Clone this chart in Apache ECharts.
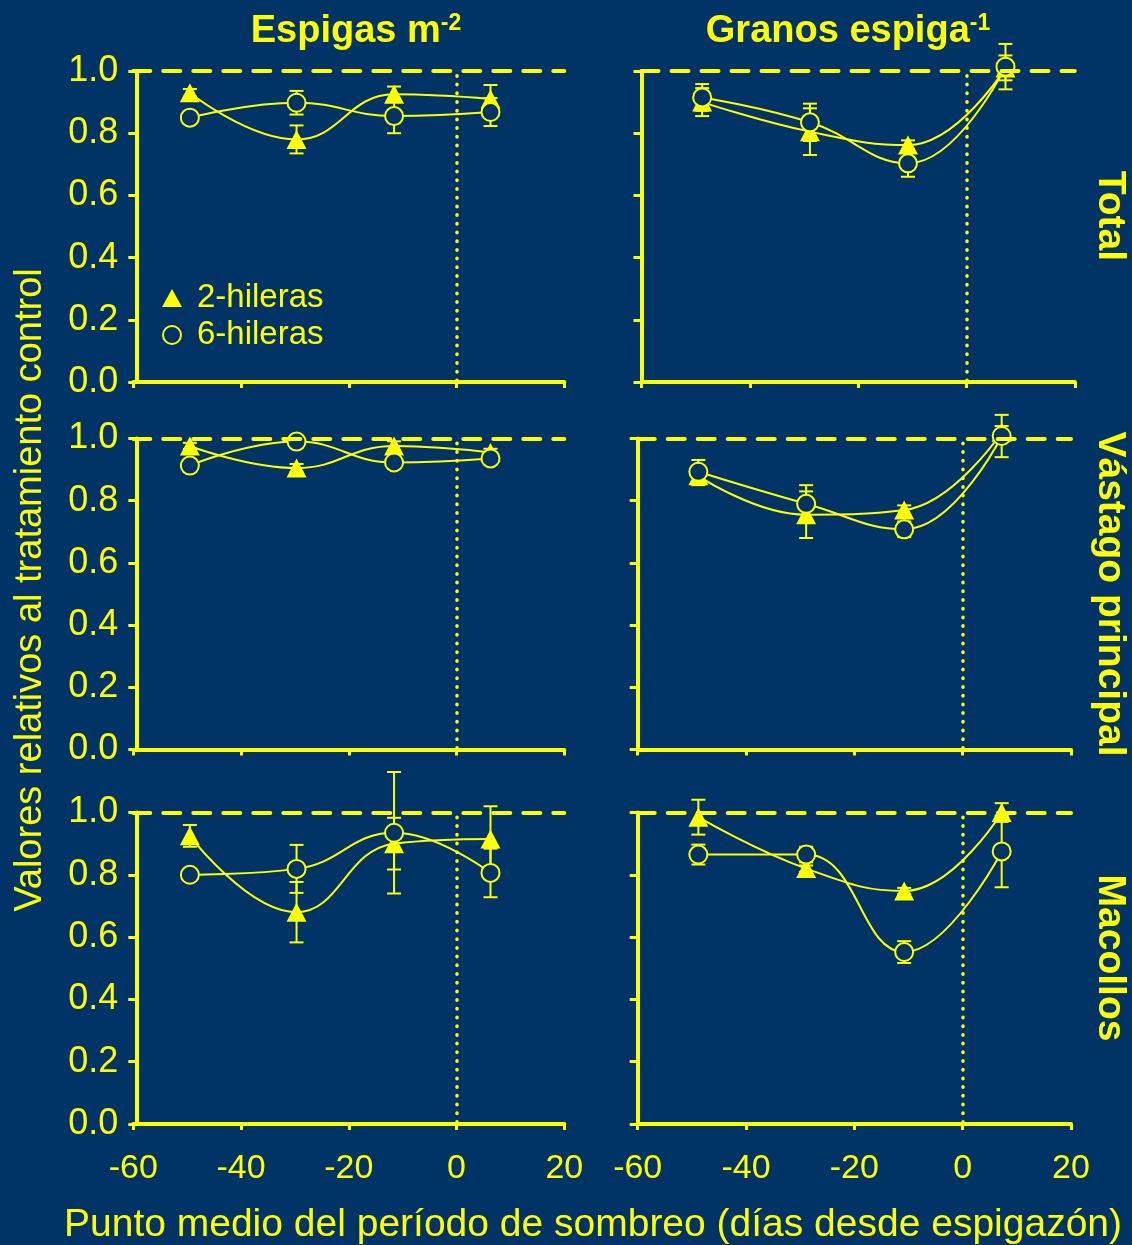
<!DOCTYPE html>
<html>
<head>
<meta charset="utf-8">
<script src="https://cdn.jsdelivr.net/npm/echarts@6/dist/echarts.min.js"></script>
<style>
  html, body { margin: 0; padding: 0; background: #003366; }
  #chart { width: 1132px; height: 1245px; }
</style>
</head>
<body>
<div id="chart"></div>
<script>
// Días desde espigazón (punto medio del sombreo) para cada columna
const diasIzq = [-49.5, -29.7, -11.6, 6.3];
const diasDer = [-48.8, -28.9, -10.8, 7.2];

// Espigas m-2 — Total
const espTotal2 = [0.93, 0.78, 0.925, 0.91];
const espTotal2Err = [0.012, 0.045, 0.025, 0.045];
const espTotal6 = [0.85, 0.898, 0.855, 0.868];
const espTotal6Err = [0.008, 0.038, 0.055, 0.045];

// Granos espiga-1 — Total
const graTotal2 = [0.90, 0.805, 0.762, 1.01];
const graTotal2Err = [0.045, 0.075, 0.015, 0.04];
const graTotal6 = [0.915, 0.835, 0.703, 1.014];
const graTotal6Err = [0.043, 0.06, 0.043, 0.073];

// Espigas m-2 — Vástago principal
const espVp2 = [0.976, 0.905, 0.976, 0.955];
const espVp2Err = [0.01, 0.013, 0.015, 0.012];
const espVp6 = [0.913, 0.99, 0.923, 0.936];
const espVp6Err = [0.01, 0.01, 0.018, 0.012];

// Granos espiga-1 — Vástago principal
const graVp2 = [0.88, 0.755, 0.77, 1.02];
const graVp2Err = [0.03, 0.075, 0.015, 0.02];
const graVp6 = [0.893, 0.79, 0.708, 1.008];
const graVp6Err = [0.038, 0.06, 0.025, 0.068];

// Espigas m-2 — Macollos
const espMac2 = [0.925, 0.68, 0.90, 0.915];
const espMac2Err = [0.035, 0.097, 0.083, 0.105];
const espMac6 = [0.80, 0.819, 0.935, 0.806];
const espMac6Err = [0.005, 0.077, 0.195, 0.078];

// Granos espiga-1 — Macollos
const graMac2 = [0.985, 0.82, 0.748, 1.0];
const graMac2Err = [0.056, 0.01, 0.01, 0.03];
const graMac6 = [0.865, 0.865, 0.552, 0.875];
const graMac6Err = [0.032, 0.025, 0.035, 0.115];

const xTicks = [-60, -40, -20, 0, 20];
const yTicks = [0, 0.2, 0.4, 0.6, 0.8, 1.0];

const BG = '#003366';
const AMARILLO = '#ffff00';
const FUENTE = '"Liberation Sans", Arial, sans-serif';

// Paneles: fila (Total, Vástago principal, Macollos) x columna (Espigas, Granos)
const paneles = [
  { grid: { left: 133.3, top: 71,    width: 431,   height: 311 }, dias: diasIzq, s2: espTotal2, e2: espTotal2Err, s6: espTotal6, e6: espTotal6Err, izq: true,  abajo: false },
  { grid: { left: 641.5, top: 71,    width: 433.3, height: 311 }, dias: diasDer, s2: graTotal2, e2: graTotal2Err, s6: graTotal6, e6: graTotal6Err, izq: false, abajo: false },
  { grid: { left: 133.3, top: 438.5, width: 431,   height: 311 }, dias: diasIzq, s2: espVp2,    e2: espVp2Err,    s6: espVp6,    e6: espVp6Err,    izq: true,  abajo: false },
  { grid: { left: 637.7, top: 438.5, width: 433.3, height: 311 }, dias: diasDer, s2: graVp2,    e2: graVp2Err,    s6: graVp6,    e6: graVp6Err,    izq: false, abajo: false },
  { grid: { left: 133.3, top: 812.5, width: 431,   height: 311.5 }, dias: diasIzq, s2: espMac2,   e2: espMac2Err,   s6: espMac6,   e6: espMac6Err,   izq: true,  abajo: true },
  { grid: { left: 637.7, top: 812.5, width: 433.3, height: 311.5 }, dias: diasDer, s2: graMac2,   e2: graMac2Err,   s6: graMac6,   e6: graMac6Err,   izq: false, abajo: true }
];

const grids = [], xAxes = [], yAxes = [], series = [];

function barrasError(idx, dias, valores, errores, nombre) {
  return {
    type: 'custom',
    name: nombre + ' error',
    xAxisIndex: idx,
    yAxisIndex: idx,
    clip: false,
    z: 1,
    silent: true,
    data: dias.map((d, i) => [d, valores[i], errores[i]]),
    renderItem: function (params, api) {
      const x = api.value(0), y = api.value(1), e = api.value(2);
      const top = api.coord([x, y + e]);
      const bot = api.coord([x, y - e]);
      const half = 7;
      const st = { stroke: AMARILLO, lineWidth: 2 };
      return {
        type: 'group',
        children: [
          { type: 'line', shape: { x1: top[0], y1: top[1], x2: bot[0], y2: bot[1] }, style: st },
          { type: 'line', shape: { x1: top[0] - half, y1: top[1], x2: top[0] + half, y2: top[1] }, style: st },
          { type: 'line', shape: { x1: bot[0] - half, y1: bot[1], x2: bot[0] + half, y2: bot[1] }, style: st }
        ]
      };
    }
  };
}

paneles.forEach((p, i) => {
  grids.push(Object.assign({ containLabel: false }, p.grid));
  xAxes.push({
    type: 'value', gridIndex: i, min: xTicks[0], max: xTicks[xTicks.length - 1], interval: 20,
    axisLine: { show: true, onZero: false, lineStyle: { color: AMARILLO, width: 4 } },
    axisTick: { show: true, inside: false, length: 6, lineStyle: { color: AMARILLO, width: 3 } },
    axisLabel: { show: p.abajo, color: AMARILLO, fontSize: 34, fontFamily: FUENTE, margin: 28 },
    splitLine: { show: false }
  });
  yAxes.push({
    type: 'value', gridIndex: i, min: yTicks[0], max: yTicks[yTicks.length - 1], interval: 0.2,
    offset: p.izq ? -3 : 0,
    axisLine: { show: true, onZero: false, lineStyle: { color: AMARILLO, width: 4 } },
    axisTick: { show: true, inside: false, length: 8, lineStyle: { color: AMARILLO, width: 3 } },
    axisLabel: { show: p.izq, color: AMARILLO, fontSize: 36, fontFamily: FUENTE, margin: 18,
                 padding: [8, 0, 0, 0], formatter: v => v.toFixed(1) },
    splitLine: { show: false }
  });

  series.push(barrasError(i, p.dias, p.s2, p.e2, '2-hileras'));
  series.push(barrasError(i, p.dias, p.s6, p.e6, '6-hileras'));

  series.push({
    type: 'line', name: '2-hileras', xAxisIndex: i, yAxisIndex: i,
    data: p.dias.map((d, k) => [d, p.s2[k]]),
    smooth: 0.45, clip: false, z: 3,
    symbol: 'triangle', symbolSize: [20, 19],
    itemStyle: { color: AMARILLO, borderWidth: 0 },
    lineStyle: { color: AMARILLO, width: 2 },
    markLine: {
      silent: true, symbol: 'none', label: { show: false }, animation: false,
      data: [
        { yAxis: 1, lineStyle: { color: AMARILLO, width: 4, type: [17, 13] } },
        [ { coord: [0, 0.985] }, { coord: [0, 0] } ]
      ],
      lineStyle: { color: AMARILLO, width: 3.5, type: [0.5, 8.2], cap: 'round' }
    }
  });
  series.push({
    type: 'line', name: '6-hileras', xAxisIndex: i, yAxisIndex: i,
    data: p.dias.map((d, k) => [d, p.s6[k]]),
    smooth: 0.45, clip: false, z: 4,
    symbol: 'circle', symbolSize: 18,
    itemStyle: { color: BG, borderColor: AMARILLO, borderWidth: 2 },
    lineStyle: { color: AMARILLO, width: 2 }
  });
});

const chart = echarts.init(document.getElementById('chart'), null, { renderer: 'canvas' });
chart.setOption({
  backgroundColor: BG,
  animation: false,
  grid: grids,
  xAxis: xAxes,
  yAxis: yAxes,
  series: series,
  legend: {
    left: 157, top: 276, orient: 'vertical', itemGap: 3,
    itemWidth: 20, itemHeight: 18,
    textStyle: { color: AMARILLO, fontSize: 33, fontFamily: FUENTE, lineHeight: 34, padding: [0, 0, 0, 10] },
    selectedMode: false,
    data: [
      { name: '2-hileras', icon: 'triangle', itemStyle: { color: AMARILLO, borderWidth: 0 } },
      { name: '6-hileras', icon: 'circle', itemStyle: { color: BG, borderColor: AMARILLO, borderWidth: 2 } }
    ]
  },
  graphic: [
    { type: 'text', x: 356, y: 32, style: {
        text: '{a|Espigas m}{b|-2}', align: 'center', verticalAlign: 'middle',
        rich: { a: { fontSize: 38, fontWeight: 'bold', fill: AMARILLO, fontFamily: FUENTE, lineHeight: 40 },
                b: { fontSize: 23, fontWeight: 'bold', fill: AMARILLO, fontFamily: FUENTE, verticalAlign: 'top', lineHeight: 22 } } } },
    { type: 'text', x: 848, y: 32, style: {
        text: '{a|Granos espiga}{b|-1}', align: 'center', verticalAlign: 'middle',
        rich: { a: { fontSize: 38, fontWeight: 'bold', fill: AMARILLO, fontFamily: FUENTE, lineHeight: 40 },
                b: { fontSize: 23, fontWeight: 'bold', fill: AMARILLO, fontFamily: FUENTE, verticalAlign: 'top', lineHeight: 22 } } } },
    { type: 'text', x: 1110, y: 216, rotation: -Math.PI / 2, style: {
        text: 'Total', align: 'center', verticalAlign: 'middle', fill: AMARILLO,
        fontSize: 39, fontWeight: 'bold', fontFamily: FUENTE } },
    { type: 'text', x: 1110, y: 594, rotation: -Math.PI / 2, style: {
        text: 'Vástago principal', align: 'center', verticalAlign: 'middle', fill: AMARILLO,
        fontSize: 39, fontWeight: 'bold', fontFamily: FUENTE } },
    { type: 'text', x: 1110, y: 958, rotation: -Math.PI / 2, style: {
        text: 'Macollos', align: 'center', verticalAlign: 'middle', fill: AMARILLO,
        fontSize: 39, fontWeight: 'bold', fontFamily: FUENTE } },
    { type: 'text', x: 31, y: 590, rotation: Math.PI / 2, style: {
        text: 'Valores relativos al tratamiento control', align: 'center', verticalAlign: 'middle',
        fill: AMARILLO, fontSize: 38, fontFamily: FUENTE } },
    { type: 'text', x: 593, y: 1225, style: {
        text: 'Punto medio del período de sombreo (días desde espigazón)', align: 'center', verticalAlign: 'middle',
        fill: AMARILLO, fontSize: 39, fontFamily: FUENTE } }
  ]
});
</script>
</body>
</html>
